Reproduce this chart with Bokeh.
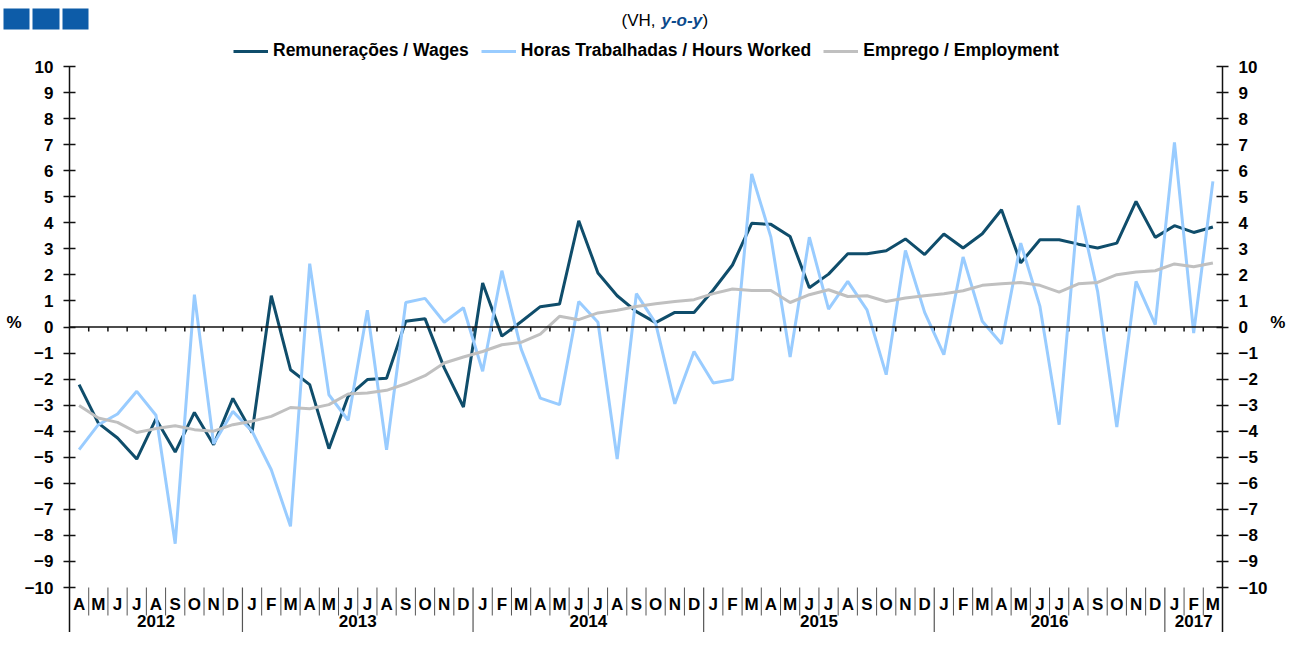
from bokeh.plotting import figure
from bokeh.layouts import column
from bokeh.models import (Range1d, LinearAxis, FixedTicker, Span, Legend, LegendItem)
from bokeh.embed import file_html
from bokeh.resources import INLINE
from bokeh.core.properties import value

# ---------------- data ----------------
years = ["2012", "2013", "2014", "2015", "2016", "2017"]
months_in_year = [9, 12, 12, 12, 12, 3]
month_letters = (["A", "M", "J", "J", "A", "S", "O", "N", "D"]
                 + ["J", "F", "M", "A", "M", "J", "J", "A", "S", "O", "N", "D"] * 4
                 + ["J", "F", "M"])

wages = [-2.21, -3.69, -4.26, -5.07, -3.53, -4.8, -3.28, -4.52, -2.74, -4.05,
         1.2, -1.64, -2.21, -4.67, -2.66, -2.02, -1.97, 0.22, 0.32, -1.57,
         -3.07, 1.69, -0.35, 0.2, 0.78, 0.88, 4.08, 2.07, 1.2, 0.59,
         0.17, 0.56, 0.56, 1.42, 2.38, 3.98, 3.94, 3.47, 1.51, 2.03,
         2.81, 2.81, 2.93, 3.38, 2.78, 3.57, 3.03, 3.58, 4.5, 2.46,
         3.35, 3.35, 3.18, 3.03, 3.22, 4.82, 3.44, 3.89, 3.63, 3.84]

hours = [-4.71, -3.75, -3.34, -2.47, -3.39, -8.32, 1.24, -4.48, -3.24, -4.0,
         -5.48, -7.65, 2.43, -2.6, -3.58, 0.64, -4.71, 0.94, 1.1, 0.18,
         0.74, -1.7, 2.16, -0.84, -2.73, -2.98, 0.98, 0.18, -5.07, 1.28,
         0.15, -2.95, -0.94, -2.15, -2.02, 5.88, 3.45, -1.15, 3.45, 0.69,
         1.75, 0.66, -1.83, 2.94, 0.56, -1.06, 2.69, 0.22, -0.64, 3.22,
         0.79, -3.75, 4.66, 1.37, -3.84, 1.75, 0.09, 7.09, -0.23, 5.59]

employment = [-3.01, -3.49, -3.66, -4.05, -3.9, -3.79, -3.94, -4.0, -3.75, -3.62,
              -3.43, -3.09, -3.14, -2.98, -2.57, -2.53, -2.43, -2.18, -1.87, -1.38,
              -1.15, -0.94, -0.68, -0.59, -0.27, 0.41, 0.28, 0.54, 0.64, 0.79,
              0.89, 0.98, 1.05, 1.28, 1.46, 1.4, 1.4, 0.94, 1.24, 1.43,
              1.17, 1.2, 0.98, 1.11, 1.2, 1.28, 1.39, 1.6, 1.66, 1.71,
              1.6, 1.34, 1.66, 1.71, 2.01, 2.11, 2.16, 2.42, 2.31, 2.46]

series_names = ["Remunerações / Wages", "Horas Trabalhadas / Hours Worked",
                "Emprego / Employment"]
subtitle_parts = ["(VH, ", "y-o-y", ")"]
y_ticks = list(range(-10, 11))

# ---------------- styling ----------------
FONT = "Liberation Sans"
C_WAGES = "#0f4d6b"
C_HOURS = "#99ccff"
C_EMP = "#c0c0c0"
W = 1288
TOP_H = 34
MAIN_H = 632 - TOP_H
PX_PER_UNIT = 26.05


def yv(ref_px):
    """value on the y scale at a given page row (layout helper)"""
    return 10 - (ref_px - 66) / PX_PER_UNIT


# ---------------- top strip: squares + subtitle ----------------
top = figure(width=W, height=TOP_H, output_backend="svg", toolbar_location=None,
             x_range=Range1d(0, W), y_range=Range1d(TOP_H, 0),
             x_axis_location=None, y_axis_location=None,
             min_border=0, min_border_left=0, min_border_right=0,
             min_border_top=0, min_border_bottom=0)
top.frame_align = False
top.outline_line_color = None
top.grid.visible = False
top.quad(left=[3, 32, 62], right=[29, 59, 88], top=[8, 8, 8], bottom=[29, 29, 29],
         fill_color="#0d5ca8", line_color=None)
top.text(x=[621], y=[20], text=[subtitle_parts[0]], text_align="left",
         text_baseline="middle", text_font=value(FONT), text_font_size="17px",
         text_color="#000000")
top.text(x=[661], y=[20], text=[subtitle_parts[1]], text_align="left",
         text_baseline="middle", text_font=value(FONT),
         text_font_style="bold italic", text_font_size="17px", text_color="#0b4a8c")
top.text(x=[702], y=[20], text=[subtitle_parts[2]], text_align="left",
         text_baseline="middle", text_font=value(FONT), text_font_size="17px",
         text_color="#000000")

# ---------------- main chart ----------------
n = len(month_letters)
x = list(range(n))
Y_TOP = yv(TOP_H)
Y_BOT = yv(632)

p = figure(width=W, height=MAIN_H, output_backend="svg", toolbar_location=None,
           x_range=Range1d(-0.5, n - 0.5), y_range=Range1d(Y_BOT, Y_TOP),
           x_axis_location=None, y_axis_location="left",
           min_border_left=69, min_border_right=W - 1231, min_border_top=0,
           min_border_bottom=0)
p.frame_align = False
p.outline_line_color = None
p.grid.visible = False


def style_axis(ax, std):
    ax.ticker = FixedTicker(ticks=y_ticks)
    ax.bounds = (Y_BOT, 10)
    ax.minor_tick_line_color = None
    ax.major_tick_in = 6
    ax.major_tick_out = 6
    ax.axis_line_color = "#111111"
    ax.axis_line_width = 1.5
    ax.major_tick_line_color = "#111111"
    ax.major_tick_line_width = 1.5
    ax.major_label_text_font = FONT
    ax.major_label_text_font_style = "bold"
    ax.major_label_text_font_size = "17px"
    ax.major_label_text_color = "#000000"
    ax.major_label_standoff = 10
    ax.axis_label = "%\n "
    ax.axis_label_orientation = "horizontal"
    ax.axis_label_standoff = std
    ax.axis_label_text_font = FONT
    ax.axis_label_text_font_style = "bold"
    ax.axis_label_text_font_size = "17px"
    ax.axis_label_text_color = "#000000"


style_axis(p.yaxis[0], 0)
right_axis = LinearAxis()
style_axis(right_axis, 0)
p.add_layout(right_axis, "right")

# zero line with month ticks
p.add_layout(Span(location=0, dimension="width", line_color="#111111", line_width=1.5))
bx = [k - 0.5 for k in range(1, n)]
p.segment(x0=bx, y0=[0] * len(bx), x1=bx, y1=[-0.17] * len(bx),
          line_color="#111111", line_width=1.5)

# month separators & year separators
year_bounds = []
acc = 0
for m in months_in_year[:-1]:
    acc += m
    year_bounds.append(acc - 0.5)
msep = [b for b in bx if b not in year_bounds]
p.segment(x0=msep, y0=[-10] * len(msep), x1=msep, y1=[yv(615)] * len(msep),
          line_color="#555555", line_width=1)
p.segment(x0=year_bounds, y0=[-10] * len(year_bounds), x1=year_bounds,
          y1=[Y_BOT] * len(year_bounds), line_color="#555555", line_width=1.2)

# month letters
p.text(x=x, y=[yv(604)] * n, text=month_letters, text_align="center",
       text_baseline="middle", text_font=value(FONT), text_font_style="bold",
       text_font_size="17px", text_color="#000000")

# year labels
yc = []
acc = 0
for m in months_in_year:
    yc.append(acc + (m - 1) / 2)
    acc += m
p.text(x=yc, y=[yv(620)] * len(years), text=years, text_align="center",
       text_baseline="middle", text_font=value(FONT), text_font_style="bold",
       text_font_size="17px", text_color="#000000")

# series
r_w = p.line(x, wages, line_color=C_WAGES, line_width=3)
r_h = p.line(x, hours, line_color=C_HOURS, line_width=3)
r_e = p.line(x, employment, line_color=C_EMP, line_width=3)

legend = Legend(items=[LegendItem(label=series_names[0], renderers=[r_w]),
                       LegendItem(label=series_names[1], renderers=[r_h]),
                       LegendItem(label=series_names[2], renderers=[r_e])],
                location=(233 - 69, MAIN_H - (61 - TOP_H)), orientation="horizontal",
                glyph_width=35, glyph_height=20, label_height=20,
                label_standoff=5, spacing=12,
                padding=0, margin=0, border_line_color=None,
                background_fill_alpha=0,
                label_text_font=FONT, label_text_font_style="bold",
                label_text_font_size="17.5px", label_text_color="#000000")
p.add_layout(legend)

layout = column(top, p, spacing=0)
open("out.html", "w").write(file_html(layout, INLINE))
